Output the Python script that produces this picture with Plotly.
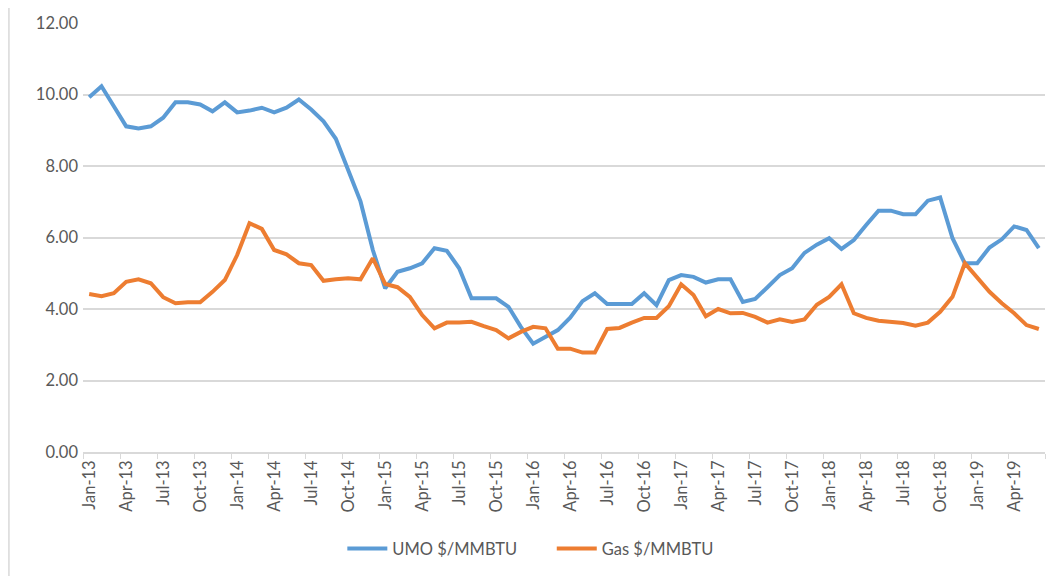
import plotly.graph_objects as go

months = ["Jan", "Feb", "Mar", "Apr", "May", "Jun", "Jul", "Aug", "Sep", "Oct", "Nov", "Dec"]
categories = [f"{m}-{y}" for y in range(13, 20) for m in months][:78]

umo = [9.92, 10.23, 9.67, 9.11, 9.05, 9.11, 9.35, 9.78, 9.78, 9.72, 9.53, 9.78,
       9.50, 9.55, 9.63, 9.50, 9.63, 9.86, 9.58, 9.25, 8.76, 7.90, 7.01, 5.65,
       4.58, 5.04, 5.14, 5.28, 5.70, 5.63, 5.14, 4.30, 4.30, 4.30, 4.06, 3.50,
       3.03, 3.22, 3.41, 3.76, 4.22, 4.44, 4.14, 4.14, 4.14, 4.44, 4.11, 4.81,
       4.95, 4.90, 4.74, 4.83, 4.83, 4.20, 4.28, 4.61, 4.95, 5.14, 5.57, 5.80,
       5.98, 5.68, 5.93, 6.35, 6.75, 6.75, 6.65, 6.65, 7.03, 7.12, 5.98, 5.28,
       5.28, 5.72, 5.95, 6.31, 6.21, 5.70]

gas = [4.42, 4.36, 4.44, 4.76, 4.83, 4.72, 4.33, 4.16, 4.19, 4.19, 4.48, 4.81,
       5.51, 6.40, 6.24, 5.65, 5.53, 5.28, 5.23, 4.79, 4.83, 4.86, 4.83, 5.42,
       4.70, 4.61, 4.34, 3.83, 3.46, 3.62, 3.62, 3.64, 3.52, 3.41, 3.18, 3.36,
       3.50, 3.46, 2.89, 2.89, 2.78, 2.78, 3.44, 3.47, 3.62, 3.75, 3.75, 4.08,
       4.69, 4.39, 3.80, 4.00, 3.88, 3.89, 3.78, 3.62, 3.71, 3.64, 3.71, 4.12,
       4.34, 4.69, 3.88, 3.75, 3.67, 3.64, 3.61, 3.53, 3.62, 3.92, 4.34, 5.28,
       4.90, 4.48, 4.16, 3.88, 3.55, 3.44]

tick_labels = categories[::3]
series_names = ["UMO $/MMBTU", "Gas $/MMBTU"]

xs = list(range(len(categories)))
FONT = "Lato, 'Open Sans', sans-serif"
GREY = "#595959"
FS = 16.5
PAD = "\u00a0" * 7

fig = go.Figure()
fig.add_trace(go.Scatter(x=xs, y=umo, mode="lines", name=series_names[0] + PAD,
                         line=dict(color="#5B9BD5", width=4)))
fig.add_trace(go.Scatter(x=xs, y=gas, mode="lines", name=series_names[1],
                         line=dict(color="#ED7D31", width=4)))

fig.update_layout(
    width=1057, height=576, autosize=False,
    margin=dict(l=75, r=20, t=15, b=132, autoexpand=False),
    plot_bgcolor="white", paper_bgcolor="white",
    font=dict(family=FONT, color=GREY, size=FS),
    showlegend=True,
    legend=dict(orientation="h", x=0.465, xanchor="center",
                yref="container", y=0.061, yanchor="middle",
                font=dict(size=FS, color=GREY), itemwidth=40, tracegroupgap=0),
)
fig.update_xaxes(
    range=[-0.5, len(categories) - 0.5],
    tickmode="array", tickvals=xs[::3], ticktext=tick_labels,
    tickangle=-90, ticks="", showgrid=False, zeroline=False,
    showline=True, linecolor="#d9d9d9", linewidth=1.5,
    tickfont=dict(size=FS, color=GREY),
    minor=dict(tickmode="array", tickvals=[v - 0.5 for v in xs[::3]] + [len(categories) - 0.5],
               ticks="outside", ticklen=5, tickcolor="#d9d9d9", showgrid=False),
)
fig.update_yaxes(
    range=[0, 12], dtick=2, tickformat=".2f",
    showgrid=True, gridcolor="#d9d9d9", gridwidth=1.5, zeroline=False,
    showline=False, tickfont=dict(size=FS, color=GREY), ticklabelstandoff=4,
)
fig.add_shape(type="line", xref="paper", yref="paper",
              x0=-0.077, x1=-0.077, y0=-0.32, y1=1.05,
              line=dict(color="#d9d9d9", width=1.5))

fig.write_html("out.html")
